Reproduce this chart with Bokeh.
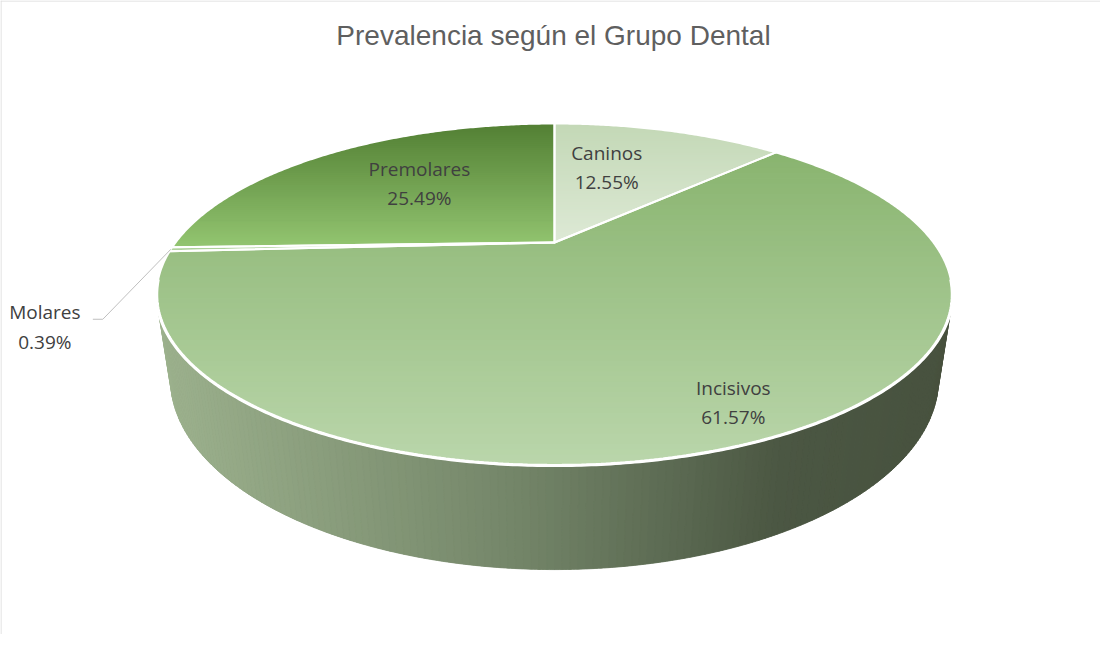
import numpy as np
from bokeh.plotting import figure
from bokeh.models import Range1d, Span, ColumnDataSource, Label
from bokeh.embed import file_html
from bokeh.resources import INLINE
from bokeh.core.properties import value

# ---------------- data ----------------
categories = ["Caninos", "Incisivos", "Molares", "Premolares"]
percentages = [12.55, 61.57, 0.39, 25.49]
chart_title = "Prevalencia según el Grupo Dental"

# ---------------- styles / layout ----------------
top_colors = {  # vertical gradient: (top of slice, bottom of slice)
    "Caninos": ("#c3d8b6", "#dde9d5"),
    "Incisivos": ("#89b46f", "#bad6ab"),
    "Molares": ("#9cc784", "#b5d4a3"),
    "Premolares": ("#527f33", "#93c571"),
}
side_stops = [(0.0, "#9db28e"), (0.45, "#748669"), (0.78, "#4b5743"), (1.0, "#47513e")]
label_layout = {  # radial fraction, angular tweak in degrees
    "Caninos": (0.59, -6.7),
    "Incisivos": (0.863, -0.6),
    "Premolares": (0.589, 2.7),
}
outside_label = "Molares"
leader_elbow = (-68.0, 70.0)
leader_end = (-10.0, 0.0)
outside_text_off = (-58.0, -7.0, 23.0)

W, H = 1100, 634
CX, CY = 554.0, 242.0        # projected pie centre
F, D = 1137.0, 3.0           # focal length, camera distance
ALPHA = np.radians(24.17)    # camera elevation
DEPTH = 0.2405               # pie thickness (radius = 1)
LABEL_FONT = "Open Sans"
TEXT_COLOR = "#404040"


def project(phi, r=1.0, y3=0.0):
    phi = np.asarray(phi, dtype=float)
    X = r * np.sin(phi)
    Z = -r * np.cos(phi)
    w = D - y3 * np.sin(ALPHA) - Z * np.cos(ALPHA)
    sx = CX + F * X / w
    sy = CY + F * (-y3 * np.cos(ALPHA) + Z * np.sin(ALPHA)) / w
    return sx, sy


def hex2rgb(h):
    h = h.lstrip("#")
    return np.array([int(h[i:i + 2], 16) for i in (0, 2, 4)], dtype=float)


def lerp_color(c0, c1, t):
    a, b = hex2rgb(c0), hex2rgb(c1)
    c = a + (b - a) * t
    return "#%02x%02x%02x" % tuple(int(round(v)) for v in c)


def stops_color(stops, t):
    for (t0, c0), (t1, c1) in zip(stops[:-1], stops[1:]):
        if t <= t1:
            return lerp_color(c0, c1, (t - t0) / (t1 - t0) if t1 > t0 else 0)
    return stops[-1][1]


def _inter(p, q, y0):
    t = (y0 - p[1]) / (q[1] - p[1])
    return (p[0] + (q[0] - p[0]) * t, y0)


def clip(pts, y0, keep_ge):
    out = []
    n = len(pts)
    for i in range(n):
        cur, prev = pts[i], pts[i - 1]
        cin = cur[1] >= y0 if keep_ge else cur[1] <= y0
        pin = prev[1] >= y0 if keep_ge else prev[1] <= y0
        if cin:
            if not pin:
                out.append(_inter(prev, cur, y0))
            out.append(cur)
        elif pin:
            out.append(_inter(prev, cur, y0))
    return out


p = figure(width=W, height=H, x_range=Range1d(0, W), y_range=Range1d(H, 0),
           output_backend="svg", toolbar_location=None, min_border=0)
p.axis.visible = False
p.grid.visible = False
p.outline_line_color = None
p.background_fill_color = "white"
p.border_fill_color = "white"

# chart frame (top & left visible)
p.add_layout(Span(location=0.5, dimension="width", line_color="#d9d9d9", line_width=1))
p.add_layout(Span(location=0.5, dimension="height", line_color="#d9d9d9", line_width=1))

# ---------------- angles ----------------
total = float(sum(percentages))
cum = np.concatenate([[0.0], np.cumsum(percentages)])
phi0 = 2 * np.pi * cum[:-1] / total
phi1 = 2 * np.pi * cum[1:] / total
phim = (phi0 + phi1) / 2

# ---------------- side wall ----------------
phi_R = np.arccos(-1.0 / (D * np.cos(ALPHA)))
phi_L = 2 * np.pi - phi_R
arc = np.linspace(phi_R, phi_L, 300)
tx, ty = project(arc, 1.0, 0.0)
bx, by = project(arc[::-1], 1.0, -DEPTH)
p.patch(np.concatenate([tx, bx]), np.concatenate([ty, by]),
        fill_color=stops_color(side_stops, 0.5), line_color=None)

xmin, xmax = tx.min(), tx.max()
NS = 160
sedges = np.linspace(phi_L, phi_R, NS + 1)   # left -> right
sxs, sys_, scs = [], [], []
for i in range(NS):
    ph = np.linspace(sedges[i], sedges[i + 1], 4)
    ax_, ay_ = project(ph, 1.0, 0.0)
    bx_, by_ = project(ph[::-1], 1.0, -DEPTH)
    xs = list(ax_) + list(bx_)
    ys = list(ay_) + list(by_)
    xm = np.mean(xs)
    t = (xm - xmin) / (xmax - xmin)
    sxs.append(xs)
    sys_.append(ys)
    scs.append(stops_color(side_stops, float(np.clip(t, 0, 1))))
p.patches(xs="xs", ys="ys", fill_color="c", line_color="c", line_width=0.8,
          source=ColumnDataSource(dict(xs=sxs, ys=sys_, c=scs)))

# ---------------- top face ----------------
slice_xs, slice_ys, base_c = [], [], []
band_xs, band_ys, band_c = [], [], []
for cat, a0, a1 in zip(categories, phi0, phi1):
    n = max(3, int(np.degrees(a1 - a0) * 2))
    ph = np.linspace(a0, a1, n)
    ax_, ay_ = project(ph)
    xs = [CX] + list(ax_)
    ys = [CY] + list(ay_)
    slice_xs.append(xs)
    slice_ys.append(ys)
    c_top, c_bot = top_colors[cat]
    base_c.append(lerp_color(c_top, c_bot, 0.5))
    y0, y1 = min(ys), max(ys)
    NB = 60
    edges = np.linspace(y0, y1, NB + 1)
    pts = list(zip(xs, ys))
    for i in range(NB):
        poly = clip(pts, edges[i] - 0.35, True)
        if len(poly) < 3:
            continue
        poly = clip(poly, edges[i + 1] + 0.35, False)
        if len(poly) < 3:
            continue
        band_xs.append([q[0] for q in poly])
        band_ys.append([q[1] for q in poly])
        band_c.append(lerp_color(c_top, c_bot, (i + 0.5) / NB))

p.patches(xs="xs", ys="ys", fill_color="c", line_color=None,
          source=ColumnDataSource(dict(xs=slice_xs, ys=slice_ys, c=base_c)))
p.patches(xs="xs", ys="ys", fill_color="c", line_color=None,
          source=ColumnDataSource(dict(xs=band_xs, ys=band_ys, c=band_c)))
p.patches(xs="xs", ys="ys", fill_color=None, line_color="white", line_width=2,
          line_join="round", source=ColumnDataSource(dict(xs=slice_xs, ys=slice_ys)))
# front white rim
rx, ry = project(np.linspace(phi_R - 0.15, phi_L + 0.15, 300))
p.line(rx, ry, line_color="white", line_width=3.2)

# ---------------- labels ----------------
lx, ly, lt = [], [], []
for cat, val, pm in zip(categories, percentages, phim):
    pct = f"{val:.2f}%"
    if cat == outside_label:
        ex, ey = project(pm, 1.0)
        ex, ey = float(ex), float(ey)
        elx, ely = ex + leader_elbow[0], ey + leader_elbow[1]
        enx, eny = elx + leader_end[0], ely + leader_end[1]
        p.line([ex, elx, enx], [ey, ely, eny], line_color="#bfbfbf", line_width=1)
        lx += [elx + outside_text_off[0]] * 2
        ly += [ely + outside_text_off[1], ely + outside_text_off[2]]
        lt += [cat, pct]
    else:
        rr, dd = label_layout[cat]
        x, y = project(pm + np.radians(dd), rr)
        x, y = float(x), float(y)
        lx += [x, x]
        ly += [y - 14.5, y + 14.5]
        lt += [cat, pct]

p.text(x="x", y="y", text="t", source=ColumnDataSource(dict(x=lx, y=ly, t=lt)),
       text_font=value(LABEL_FONT), text_font_size="19px", text_color=TEXT_COLOR,
       text_align="center", text_baseline="middle")

p.add_layout(Label(x=553, y=35, text=chart_title, text_align="center",
                   text_baseline="middle", text_font="Liberation Sans",
                   text_font_size="28px", text_color="#5f5f5f"))

open("out.html", "w").write(file_html(p, INLINE))
